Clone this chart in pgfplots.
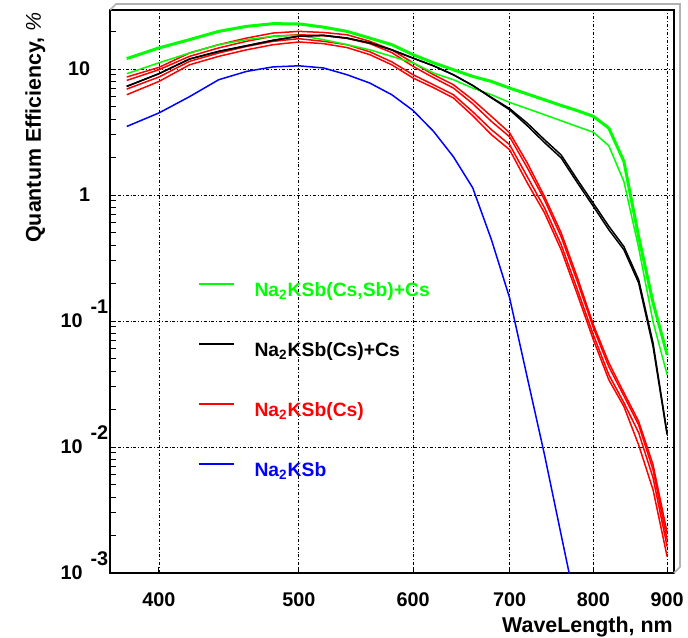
\documentclass[border=0pt]{standalone}
\usepackage{fontspec}
\setmainfont{Liberation Sans}
\usepackage{pgfplots}
\usepackage{pgfplotstable}
\pgfplotsset{compat=1.18}
\usetikzlibrary{calc}
\definecolor{qgreen}{RGB}{0,255,0}
\definecolor{qred}{RGB}{255,0,0}
\definecolor{qblue}{RGB}{0,0,255}

% Na2KSb
\pgfplotstableread{
wl qe
380 3.50
400 4.48
420 6.03
440 8.22
460 9.57
480 10.4
500 10.6
520 10.2
540 9.01
560 7.74
580 6.25
600 4.69
620 3.20
640 2.01
660 1.14
680 0.442
700 0.153
720 0.0357
740 0.00873
760 0.00201
780 0.000484
}\tblblue

% Na2KSb(Cs)
\pgfplotstableread{
wl r1 r2 r3 r4
380 8.64 8.12 6.93 6.25
400 10.3 9.87 8.64 7.97
420 13.4 12.6 11.5 10.8
440 15.6 14.7 13.4 12.6
460 17.6 16.6 15.1 14.2
480 19.3 18.2 16.6 15.6
500 19.9 18.7 17.4 16.4
520 19.5 18.4 16.6 15.9
540 18.7 17.5 15.6 14.8
560 16.6 15.9 13.7 13.0
580 14.2 13.5 11.4 10.8
600 11.2 10.5 9.01 8.48
620 9.01 8.53 7.50 7.11
640 7.50 7.06 6.25 5.89
660 5.70 5.31 4.58 4.26
680 4.21 3.84 3.30 3.01
700 3.12 2.90 2.51 2.29
720 1.80 1.65 1.40 1.25
740 0.975 0.918 0.793 0.724
760 0.502 0.467 0.404 0.368
780 0.221 0.205 0.177 0.162
800 0.0935 0.0885 0.0778 0.0711
820 0.0467 0.0434 0.0375 0.0342
840 0.0270 0.0255 0.0225 0.0210
860 0.0160 0.0150 0.0130 0.0104
880 0.00724 0.0066 0.0057 0.00458
900 0.00209 0.00184 0.00162 0.00135
}\tblred

% Na2KSb(Cs)+Cs
\pgfplotstableread{
wl b1 b2
380 7.28 7.28
400 9.18 9.18
420 12.0 12.0
440 13.8 13.8
460 15.3 15.3
480 16.9 16.9
500 18.2 18.2
520 18.5 18.5
540 17.6 17.6
560 16.1 16.1
580 14.2 14.2
600 12.2 12.2
620 10.6 10.6
640 9.0 9.0
660 7.4 7.4
680 5.9 5.95
700 4.75 4.85
720 3.55 3.72
740 2.61 2.75
760 1.97 2.08
780 1.25 1.32
800 0.813 0.86
820 0.531 0.565
840 0.368 0.39
860 0.201 0.213
880 0.0628 0.067
900 0.0125 0.0128
}\tblblack

% Na2KSb(Cs,Sb)+Cs
\pgfplotstableread{
wl g1 g2
380 12.1 9.18
400 14.7 11.2
420 17.1 13.4
440 19.9 15.6
460 21.8 17.1
480 22.9 18.2
500 22.8 18.5
520 21.5 17.1
540 19.9 15.6
560 17.6 14.2
580 15.6 12.6
600 13.0 11.2
620 11.2 9.29
640 9.87 8.22
660 8.74 7.06
680 7.97 6.25
700 7.06 5.43
720 6.34 4.85
740 5.70 4.34
760 5.14 3.89
780 4.67 3.49
800 4.21 3.15
820 3.40 2.46
840 1.85 1.28
860 0.467 0.382
880 0.140 0.0986
900 0.054 0.0375
}\tblgreen

\begin{document}
\begin{tikzpicture}
\begin{axis}[
    name=ax,
    scale only axis, width=282pt, height=281.5pt,
    xmode=log, ymode=log,
    xmin=370, xmax=910, ymin=1e-3, ymax=29.4,
    xtick={400,500,600,700,800,900},
    xticklabels={400,500,600,700,800,900},
    ytick={1e-3,1e-2,1e-1,1,10},
    minor ytick={0.002,0.003,0.004,0.005,0.006,0.007,0.008,0.009,
                 0.02,0.03,0.04,0.05,0.06,0.07,0.08,0.09,
                 0.2,0.3,0.4,0.5,0.6,0.7,0.8,0.9,
                 2,3,4,5,6,7,8,9,20},
    yticklabels={{10\kern4pt\raisebox{7pt}[0pt][0pt]{-3}},
                 {10\kern4pt\raisebox{7pt}[0pt][0pt]{-2}},
                 {10\kern4pt\raisebox{7pt}[0pt][0pt]{-1}},
                 {1\kern9pt}, {10\kern9pt}},
    tick pos=left,
    major tick length=3pt, minor tick length=3pt,
    tick style={black, line width=0.5pt},
    axis line style={line width=1pt},
    grid=major,
    major grid style={black, line width=0.4pt,
        dash pattern=on 1.5pt off 1pt on 0.4pt off 1pt},
    xticklabel style={anchor=north, inner sep=0pt, yshift=-9.5pt,
        font=\fontsize{9.9}{12}\selectfont\bfseries},
    yticklabel style={anchor=east, inner sep=0pt, xshift=-0.7pt,
        font=\fontsize{9.9}{12}\selectfont\bfseries},
    xlabel={WaveLength, nm},
    ylabel={Quantum Efficiency, {\mdseries\itshape\%}},
    xlabel style={at={(axis description cs:0.9982,-0.0782)}, anchor=north east,
        inner sep=0pt, font=\fontsize{10.7}{13}\selectfont\bfseries},
    ylabel style={at={(axis description cs:-0.1507,0.9964)}, anchor=north east,
        inner sep=0pt, font=\fontsize{10.7}{13}\selectfont\bfseries},
    legend style={draw=none, fill=none, inner sep=0pt, outer sep=0pt,
        at={(axis description cs:0.156,0.518)}, anchor=north west,
        row sep=20pt, column sep=10pt,
        font=\fontsize{9.65}{11}\selectfont\bfseries,
        nodes={inner sep=0pt, text height=7.5pt, text depth=2.5pt}},
    legend cell align=left,
    legend image code/.code={\draw[#1, line width=0.75pt] (0pt,3.6pt) -- (17.5pt,3.6pt);},
]
\addlegendimage{qgreen}
\addlegendentry{\textcolor{qgreen}{Na\textsubscript{2}KSb(Cs,Sb)+Cs}}
\addlegendimage{black}
\addlegendentry{Na\textsubscript{2}KSb(Cs)+Cs}
\addlegendimage{qred}
\addlegendentry{\textcolor{qred}{Na\textsubscript{2}KSb(Cs)}}
\addlegendimage{qblue}
\addlegendentry{\textcolor{qblue}{Na\textsubscript{2}KSb}}

\addplot[qred, line width=0.75pt, forget plot] table[x=wl, y=r1] {\tblred};
\addplot[qred, line width=0.75pt, forget plot] table[x=wl, y=r2] {\tblred};
\addplot[qred, line width=0.75pt, forget plot] table[x=wl, y=r3] {\tblred};
\addplot[qred, line width=0.75pt, forget plot] table[x=wl, y=r4] {\tblred};
\addplot[qblue, line width=0.75pt, forget plot] table[x=wl, y=qe] {\tblblue};
\addplot[qgreen, line width=0.75pt, forget plot] table[x=wl, y=g2] {\tblgreen};
\addplot[black, line width=0.75pt, forget plot] table[x=wl, y=b1] {\tblblack};
\addplot[black, line width=0.75pt, forget plot] table[x=wl, y=b2] {\tblblack};
\addplot[qgreen, line width=1.5pt, forget plot] table[x=wl, y=g1] {\tblgreen};
\end{axis}
\draw[gray!60, line width=0.8pt] (ax.north west) -- ++(3pt,3pt)
    -| ($(ax.south east)+(3pt,3pt)$) -- (ax.south east);
\pgfresetboundingbox
\path ($(ax.south west)+(-55pt,-32pt)$) rectangle ($(ax.north east)+(7pt,5pt)$);
\end{tikzpicture}
\end{document}
